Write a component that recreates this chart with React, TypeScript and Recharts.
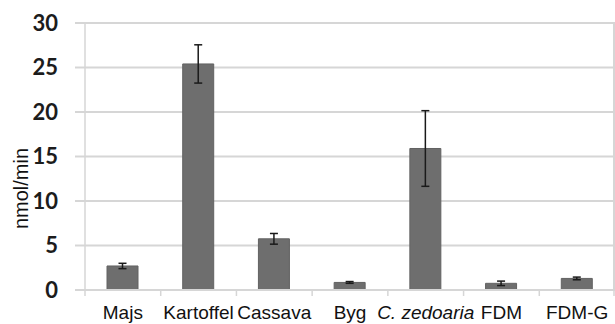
import { BarChart, Bar, XAxis, YAxis, CartesianGrid, ErrorBar, Label } from "recharts";

const categories = ["Majs", "Kartoffel", "Cassava", "Byg", "C. zedoaria", "FDM", "FDM-G"];
const rates = [2.7, 25.4, 5.75, 0.85, 15.9, 0.75, 1.3];
const rateErrors = [0.3, 2.15, 0.6, 0.1, 4.25, 0.25, 0.15];
const yTicks = [0, 5, 10, 15, 20, 25, 30];
const italicCategories = ["C. zedoaria"];

const data = categories.map((name, i) => ({ name, rate: rates[i], err: rateErrors[i] }));

const CHART_W = 615;
const CHART_H = 324;
const Y_AXIS_W = 85;
const GRID = "#d6d6d6";

function CategoryTick(props: any) {
  const { x, y, payload, index, visibleTicksCount } = props;
  const band = (props.width || CHART_W - Y_AXIS_W) / visibleTicksCount;
  const half = band / 2;
  const axisY = y - 6;
  const italic = italicCategories.includes(payload.value);
  return (
    <g>
      <line x1={x - half} x2={x - half} y1={axisY} y2={axisY + 6} stroke={GRID} strokeWidth={1.5} />
      {index === visibleTicksCount - 1 && (
        <line x1={x + half - 1} x2={x + half - 1} y1={axisY} y2={axisY + 6} stroke={GRID} strokeWidth={1.5} />
      )}
      <text
        x={x}
        y={axisY + 29}
        textAnchor="middle"
        fontFamily="'Liberation Sans', Arial, sans-serif"
        fontSize={19}
        fontStyle={italic ? "italic" : "normal"}
        fill="#111"
      >
        {payload.value}
      </text>
    </g>
  );
}

function YLabel(props: any) {
  const vb = props.viewBox || { x: 0, y: 0, height: 0 };
  const cx = vb.x + 28;
  const cy = vb.y + vb.height / 2 + 32;
  return (
    <text
      x={cx}
      y={cy}
      transform={`rotate(-90 ${cx} ${cy})`}
      textAnchor="middle"
      fontFamily="'Liberation Sans', Arial, sans-serif"
      fontSize={20}
      fill="#111"
    >
      nmol/min
    </text>
  );
}

export default function App() {
  return (
    <div style={{ width: CHART_W, height: CHART_H, background: "#fff" }}>
      <style>{`body{margin:0}`}</style>
      <BarChart
        width={CHART_W}
        height={CHART_H}
        data={data}
        margin={{ top: 23, right: 0, bottom: 0, left: 0 }}
        barSize={31}
      >
        <CartesianGrid
          vertical={true}
          verticalCoordinatesGenerator={({ offset }: any) => [offset.left + offset.width - 1]}
          stroke={GRID}
          strokeWidth={2}
        />
        <XAxis
          dataKey="name"
          interval={0}
          height={CHART_H - 23 - 267}
          axisLine={{ stroke: GRID, strokeWidth: 2 }}
          tickLine={false}
          tickSize={6}
          tickMargin={0}
          tick={<CategoryTick />}
        />
        <YAxis
          width={Y_AXIS_W}
          domain={[0, 30]}
          ticks={yTicks}
          interval={0}
          axisLine={{ stroke: GRID, strokeWidth: 1.5 }}
          tickLine={{ stroke: GRID, strokeWidth: 2 }}
          tickSize={10}
          tickMargin={17}
          tick={{ fontFamily: "Lato, sans-serif", fontWeight: 700, fontSize: 22, fill: "#1c1c1c" }}
        >
          <Label content={<YLabel />} />
        </YAxis>
        <Bar dataKey="rate" fill="#6e6e6e" stroke="#626262" strokeWidth={1} isAnimationActive={false}>
          <ErrorBar dataKey="err" width={4} stroke="#1a1a1a" strokeWidth={1.5} direction="y" />
        </Bar>
      </BarChart>
    </div>
  );
}
